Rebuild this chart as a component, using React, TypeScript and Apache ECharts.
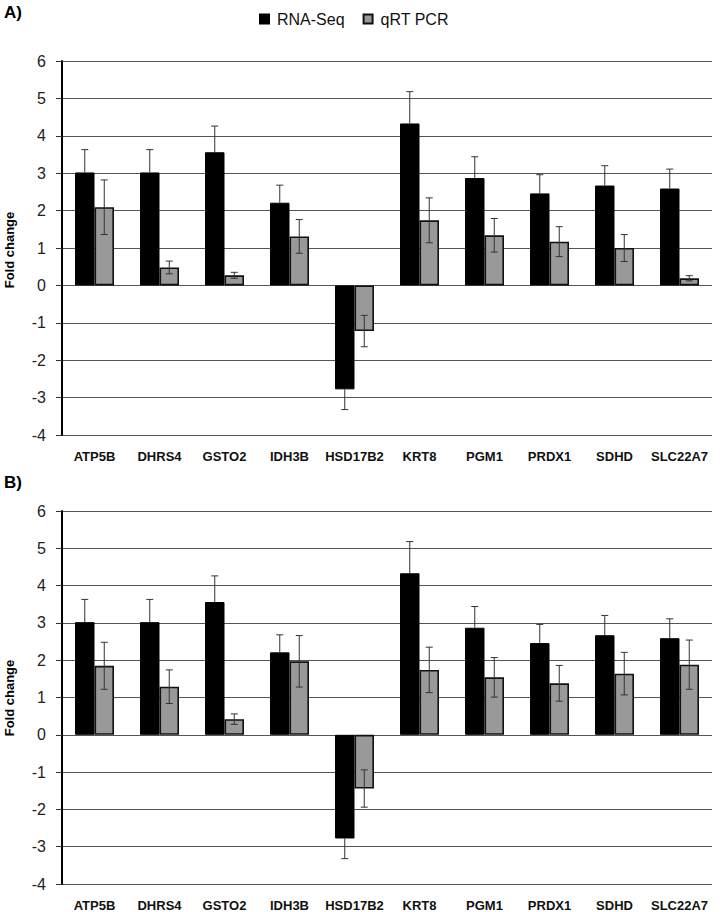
import React, { useEffect, useRef } from 'react';
import * as echarts from 'echarts';

const categories = ['ATP5B', 'DHRS4', 'GSTO2', 'IDH3B', 'HSD17B2', 'KRT8', 'PGM1', 'PRDX1', 'SDHD', 'SLC22A7'];
const rnaSeq = [3.02, 3.02, 3.56, 2.21, -2.78, 4.33, 2.87, 2.46, 2.67, 2.59];
const rnaSeqErr = [0.61, 0.61, 0.7, 0.47, 0.54, 0.85, 0.57, 0.5, 0.53, 0.52];
const qpcrA = [2.09, 0.48, 0.27, 1.31, -1.22, 1.74, 1.34, 1.17, 1.0, 0.19];
const qpcrAErr = [0.73, 0.17, 0.08, 0.45, 0.42, 0.6, 0.45, 0.4, 0.36, 0.07];
const qpcrB = [1.85, 1.29, 0.42, 1.97, -1.44, 1.74, 1.54, 1.38, 1.64, 1.88];
const qpcrBErr = [0.63, 0.45, 0.14, 0.69, 0.5, 0.61, 0.53, 0.48, 0.57, 0.66];
const yMin = -4;
const yMax = 6;
const yStep = 1;

const BAR_W = 19.5;

function errSeries(name: string, axisIdx: number, vals: number[], errs: number[], offset: number, outwardOnly: boolean) {
  return {
    type: 'custom',
    name,
    xAxisIndex: axisIdx,
    yAxisIndex: axisIdx,
    z: 10,
    data: vals.map((v, i) => [i, v, errs[i]]),
    encode: { x: 0, y: 1 },
    renderItem: (params: any, api: any) => {
      const idx = api.value(0);
      const v = api.value(1);
      const e = api.value(2);
      const hi = outwardOnly ? (v >= 0 ? v + e : v) : v + e;
      const lo = outwardOnly ? (v >= 0 ? v : v - e) : v - e;
      const p1 = api.coord([idx, hi]);
      const p2 = api.coord([idx, lo]);
      const x = p1[0] + offset;
      const style = { stroke: '#333', lineWidth: 1 };
      const children: any[] = [
        { type: 'line', shape: { x1: x, y1: p1[1], x2: x, y2: p2[1] }, style },
      ];
      if (!outwardOnly || v >= 0) children.push({ type: 'line', shape: { x1: x - 3.5, y1: p1[1], x2: x + 3.5, y2: p1[1] }, style });
      if (!outwardOnly || v < 0) children.push({ type: 'line', shape: { x1: x - 3.5, y1: p2[1], x2: x + 3.5, y2: p2[1] }, style });
      return { type: 'group', children };
    },
  };
}

export default function App() {
  const ref = useRef<HTMLDivElement>(null);
  useEffect(() => {
    if (!ref.current) return;
    const chart = echarts.init(ref.current, null, { renderer: 'svg' });
    const font = 'Arial, "Liberation Sans", sans-serif';
    const mkX = (gi: number) => ({
      type: 'category',
      gridIndex: gi,
      data: categories,
      axisLine: { show: false },
      axisTick: { show: false },
      axisLabel: { fontFamily: font, fontWeight: 'bold', fontSize: 13, color: '#111', margin: 15, interval: 0 },
    });
    const mkY = (gi: number) => ({
      type: 'value',
      gridIndex: gi,
      min: yMin,
      max: yMax,
      interval: yStep,
      axisLine: { show: true, lineStyle: { color: '#000', width: 2 } },
      axisTick: { show: true, length: 6, lineStyle: { color: '#333', width: 1 } },
      axisLabel: { fontFamily: font, fontSize: 16, color: '#222', margin: 16 },
      splitLine: { show: true, lineStyle: { color: '#555', width: 1 } },
    });
    const blackStyle = { color: '#000', borderColor: '#000', borderWidth: 1 };
    const grayStyle = { color: '#999999', borderColor: '#111', borderWidth: 1.6 };
    const option: any = {
      animation: false,
      backgroundColor: '#fff',
      legend: {
        data: ['RNA-Seq', 'qRT PCR'],
        left: 254,
        top: 6,
        icon: 'rect',
        itemWidth: 9,
        itemHeight: 9,
        itemGap: 18,
        textStyle: { fontFamily: font, fontSize: 16, color: '#111', padding: [0, 0, 0, 3] },
      },
      grid: [
        { left: 62, right: 9, top: 61, height: 374 },
        { left: 62, right: 9, top: 511, height: 373.5 },
      ],
      xAxis: [mkX(0), mkX(1)],
      yAxis: [mkY(0), mkY(1)],
      graphic: [
        { type: 'text', left: 4, top: 4, style: { text: 'A)', fontFamily: font, fontWeight: 'bold', fontSize: 17, fill: '#000' } },
        { type: 'text', left: 4, top: 474, style: { text: 'B)', fontFamily: font, fontWeight: 'bold', fontSize: 17, fill: '#000' } },
        { type: 'text', x: 9, y: 250, rotation: Math.PI / 2, style: { text: 'Fold change', fontFamily: font, fontWeight: 'bold', fontSize: 13, fill: '#000', align: 'center', verticalAlign: 'middle' } },
        { type: 'text', x: 9, y: 698, rotation: Math.PI / 2, style: { text: 'Fold change', fontFamily: font, fontWeight: 'bold', fontSize: 13, fill: '#000', align: 'center', verticalAlign: 'middle' } },
      ],
      series: [
        { type: 'bar', name: 'RNA-Seq', xAxisIndex: 0, yAxisIndex: 0, data: rnaSeq, barWidth: BAR_W, barGap: '0%', itemStyle: blackStyle },
        { type: 'bar', name: 'qRT PCR', xAxisIndex: 0, yAxisIndex: 0, data: qpcrA, barWidth: BAR_W, barGap: '0%', itemStyle: grayStyle },
        { type: 'bar', name: 'RNA-Seq', xAxisIndex: 1, yAxisIndex: 1, data: rnaSeq, barWidth: BAR_W, barGap: '0%', itemStyle: blackStyle },
        { type: 'bar', name: 'qRT PCR', xAxisIndex: 1, yAxisIndex: 1, data: qpcrB, barWidth: BAR_W, barGap: '0%', itemStyle: grayStyle },
        errSeries('errRA', 0, rnaSeq, rnaSeqErr, -BAR_W / 2, true),
        errSeries('errQA', 0, qpcrA, qpcrAErr, BAR_W / 2, false),
        errSeries('errRB', 1, rnaSeq, rnaSeqErr, -BAR_W / 2, true),
        errSeries('errQB', 1, qpcrB, qpcrBErr, BAR_W / 2, false),
      ],
    };
    chart.setOption(option);
    return () => chart.dispose();
  }, []);
  return <div ref={ref} style={{ position: 'absolute', left: 0, top: 0, width: 721, height: 912 }} />;
}
